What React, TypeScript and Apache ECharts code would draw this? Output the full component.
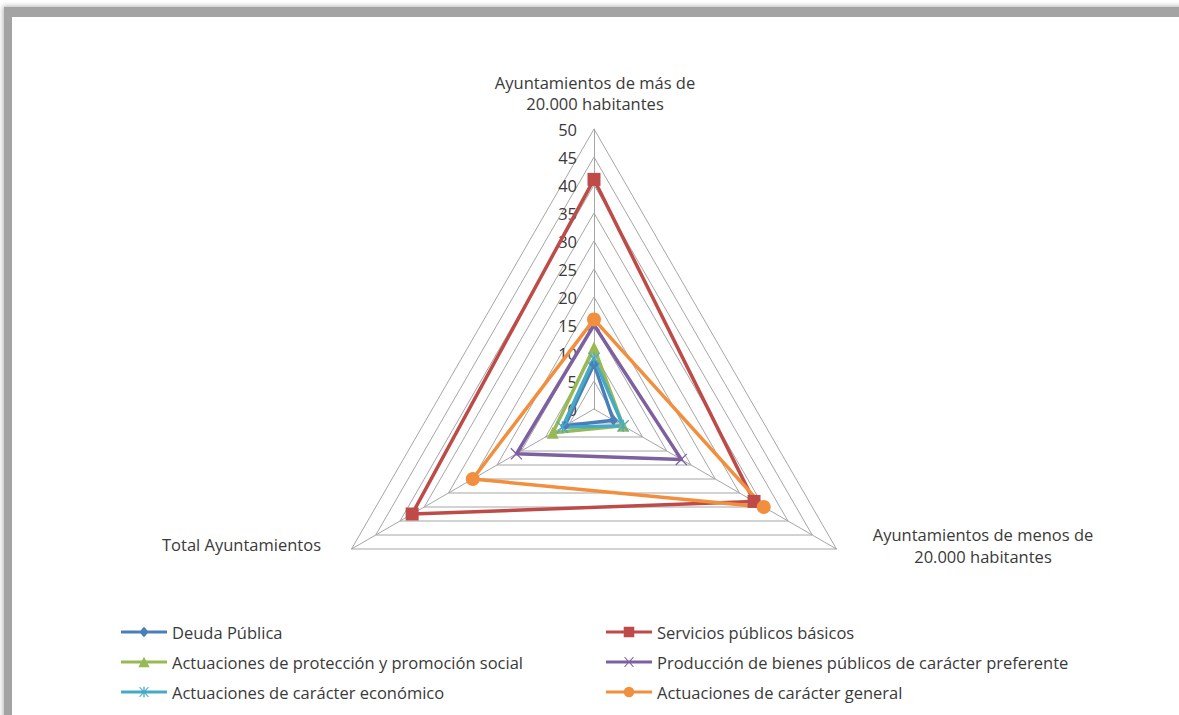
import React, { useEffect, useRef } from "react";
import * as echarts from "echarts";

const indicatorNames = [
  "Ayuntamientos de más de\n20.000 habitantes",
  "Total Ayuntamientos",
  "Ayuntamientos de menos de\n20.000 habitantes",
];
const radarTicks = [0, 5, 10, 15, 20, 25, 30, 35, 40, 45, 50];

const seriesNames = [
  "Deuda Pública",
  "Servicios públicos básicos",
  "Actuaciones de protección y promoción social",
  "Producción de bienes públicos de carácter preferente",
  "Actuaciones de carácter económico",
  "Actuaciones de carácter general",
];
// order: [más de 20.000, Total, menos de 20.000]
const deudaPublica = [8, 6, 4];
const serviciosBasicos = [41, 37.5, 33];
const proteccionSocial = [11, 8.5, 6];
const produccionBienes = [15, 16, 18];
const caracterEconomico = [9, 6.5, 6];
const caracterGeneral = [16, 25, 35];

const seriesValues = [
  deudaPublica,
  serviciosBasicos,
  proteccionSocial,
  produccionBienes,
  caracterEconomico,
  caracterGeneral,
];
const colors = ["#4A7EBB", "#BE4B48", "#98B954", "#7D60A0", "#46AAC5", "#F28F3F"];

const X_SYM = "path://M0.75,0 L10,9.25 L9.25,10 L0,0.75 Z M9.25,0 L10,0.75 L0.75,10 L0,9.25 Z";
const STAR_SYM =
  "path://M0.75,0 L10,9.25 L9.25,10 L0,0.75 Z M9.25,0 L10,0.75 L0.75,10 L0,9.25 Z M4.4,0 L5.6,0 L5.6,10 L4.4,10 Z";
const symbols = ["diamond", "rect", "triangle", X_SYM, STAR_SYM, "circle"];
const symbolSizes = [10, 13, 12, 12, 12, 14];

const LINE = "M0,4 L48,4 L48,7 L0,7 Z";
const legendIcons = [
  `path://${LINE} M24,0 L29,5.5 L24,11 L19,5.5 Z`,
  `path://${LINE} M18.5,0 L29.5,0 L29.5,11 L18.5,11 Z`,
  `path://${LINE} M24,0 L30,11 L18,11 Z`,
  `path://${LINE} M19.7,0 L29,10.3 L28.3,11 L19,0.7 Z M28.3,0 L29,0.7 L19.7,11 L19,10.3 Z`,
  `path://${LINE} M19.7,0 L29,10.3 L28.3,11 L19,0.7 Z M28.3,0 L29,0.7 L19.7,11 L19,10.3 Z M23.3,0 L24.7,0 L24.7,11 L23.3,11 Z`,
  `path://${LINE} M18.5,5.5 A5.5,5.5 0 1 1 29.5,5.5 A5.5,5.5 0 1 1 18.5,5.5 Z`,
];

const FONT = "'Open Sans', 'Noto Sans', sans-serif";
const FS = 16.5;
const TEXT_COLOR = "#3a3a3a";
const GRID_COLOR = "#a6a6a6";

export default function App() {
  const ref = useRef<HTMLDivElement>(null);
  useEffect(() => {
    if (!ref.current) return;
    const chart = echarts.init(ref.current, undefined, { renderer: "svg" });
    const tMin = radarTicks[0];
    const tMax = radarTicks[radarTicks.length - 1];
    chart.setOption({
      animation: false,
      backgroundColor: "transparent",
      textStyle: { fontFamily: FONT },
      radar: {
        center: [594, 409],
        radius: 280,
        startAngle: 90,
        shape: "polygon",
        splitNumber: radarTicks.length - 1,
        indicator: indicatorNames.map((n, i) => ({
          name: n,
          min: tMin,
          max: tMax,
          ...(i === 0 ? { axisLabel: { show: true } } : {}),
        })),
        axisName: { show: false },
        axisLine: { lineStyle: { color: GRID_COLOR, width: 1 } },
        splitLine: { lineStyle: { color: GRID_COLOR, width: 1 } },
        splitArea: { show: false },
        axisTick: { show: false },
        axisLabel: {
          show: false,
          color: TEXT_COLOR,
          fontSize: FS,
          fontFamily: FONT,
          margin: 17,
        },
      },
      legend: {
        left: 121,
        top: 622,
        width: 1000,
        padding: 0,
        orient: "horizontal",
        itemWidth: 46,
        itemHeight: 11,
        itemGap: 10,
        selectedMode: false,
        data: seriesNames.map((n, i) => ({ name: n, icon: legendIcons[i] })),
        textStyle: {
          fontFamily: FONT,
          fontSize: FS,
          color: TEXT_COLOR,
          width: 424,
          lineHeight: 20,
        },
      },
      graphic: [
        {
          type: "text",
          x: 595,
          y: 72,
          style: {
            text: indicatorNames[0],
            fontFamily: FONT,
            fontSize: FS,
            fill: TEXT_COLOR,
            textAlign: "center",
            textVerticalAlign: "top",
            lineHeight: 21,
          },
        },
        {
          type: "text",
          x: 321,
          y: 544,
          style: {
            text: indicatorNames[1],
            fontFamily: FONT,
            fontSize: FS,
            fill: TEXT_COLOR,
            textAlign: "right",
            textVerticalAlign: "middle",
          },
        },
        {
          type: "text",
          x: 983,
          y: 523,
          style: {
            text: indicatorNames[2],
            fontFamily: FONT,
            fontSize: FS,
            fill: TEXT_COLOR,
            textAlign: "center",
            textVerticalAlign: "top",
            lineHeight: 22,
          },
        },
      ],
      series: [
        {
          type: "radar",
          data: seriesNames.map((n, i) => ({
            name: n,
            value: seriesValues[i],
            symbol: symbols[i],
            symbolSize: symbolSizes[i],
            lineStyle: { color: colors[i], width: 3.5 },
            itemStyle: { color: colors[i] },
          })),
        },
      ],
    });
    return () => chart.dispose();
  }, []);

  return (
    <div
      style={{
        position: "fixed",
        left: 0,
        top: 0,
        width: 1179,
        height: 715,
        background: "#ffffff",
        overflow: "hidden",
      }}
    >
      <div
        style={{
          position: "absolute",
          left: 4,
          top: 7,
          width: 1300,
          height: 800,
          borderLeft: "8px solid #a3a3a3",
          borderTop: "10px solid #a3a3a3",
          boxShadow: "0 0 5px 1px #b5b5b5",
          background: "#ffffff",
        }}
      />
      <div
        ref={ref}
        style={{ position: "absolute", left: 0, top: 0, width: 1179, height: 715 }}
      />
    </div>
  );
}
